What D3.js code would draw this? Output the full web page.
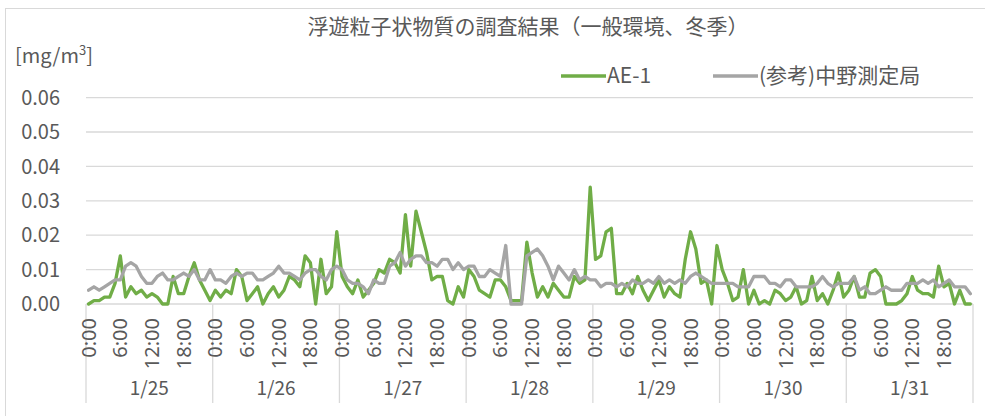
<!DOCTYPE html>
<html>
<head>
<meta charset="utf-8">
<script src="https://cdn.jsdelivr.net/npm/d3@7"></script>
<style>
  body { margin: 0; background: #fff; }
  svg { display: block; }
</style>
</head>
<body>
<div id="chart"></div>
<script>
// categories
const days = ['1/25', '1/26', '1/27', '1/28', '1/29', '1/30', '1/31'];
const hourTicks = [0, 6, 12, 18];
const hourLabels = ['0:00', '6:00', '12:00', '18:00'];
const yTicks = [0, 0.01, 0.02, 0.03, 0.04, 0.05, 0.06];

// hourly values [mg/m3], one row per day
const ae1 = [
  0.000, 0.001, 0.001, 0.002, 0.002, 0.006, 0.014, 0.002, 0.005, 0.003, 0.004, 0.002, 0.003, 0.002, 0.000, 0.000, 0.008, 0.003, 0.003, 0.008, 0.012, 0.007, 0.004, 0.001,
  0.004, 0.002, 0.004, 0.003, 0.010, 0.008, 0.001, 0.003, 0.005, 0.000, 0.003, 0.005, 0.002, 0.004, 0.008, 0.007, 0.005, 0.014, 0.012, 0.000, 0.013, 0.003, 0.005, 0.021,
  0.008, 0.005, 0.003, 0.007, 0.002, 0.004, 0.006, 0.010, 0.009, 0.013, 0.012, 0.009, 0.026, 0.011, 0.027, 0.021, 0.015, 0.007, 0.008, 0.008, 0.001, 0.000, 0.005, 0.002,
  0.010, 0.008, 0.004, 0.003, 0.002, 0.007, 0.007, 0.005, 0.001, 0.001, 0.001, 0.018, 0.009, 0.002, 0.005, 0.002, 0.006, 0.004, 0.002, 0.002, 0.008, 0.006, 0.007, 0.034,
  0.013, 0.014, 0.021, 0.022, 0.003, 0.003, 0.006, 0.003, 0.008, 0.004, 0.001, 0.004, 0.007, 0.002, 0.005, 0.003, 0.002, 0.013, 0.021, 0.016, 0.006, 0.007, 0.000, 0.017,
  0.010, 0.006, 0.001, 0.002, 0.010, 0.000, 0.004, 0.000, 0.001, 0.000, 0.004, 0.003, 0.001, 0.002, 0.005, 0.000, 0.001, 0.008, 0.001, 0.003, 0.000, 0.004, 0.009, 0.002,
  0.004, 0.008, 0.002, 0.002, 0.009, 0.010, 0.008, 0.000, 0.000, 0.000, 0.001, 0.003, 0.008, 0.004, 0.003, 0.003, 0.002, 0.011, 0.005, 0.006, 0.000, 0.004, 0.000, 0.000
];
const nakano = [
  0.004, 0.005, 0.004, 0.005, 0.006, 0.007, 0.007, 0.011, 0.012, 0.011, 0.008, 0.006, 0.006, 0.008, 0.009, 0.007, 0.007, 0.008, 0.009, 0.008, 0.010, 0.007, 0.007, 0.010,
  0.007, 0.007, 0.006, 0.008, 0.009, 0.008, 0.009, 0.009, 0.007, 0.007, 0.008, 0.009, 0.011, 0.009, 0.009, 0.008, 0.007, 0.009, 0.010, 0.010, 0.008, 0.007, 0.010, 0.011,
  0.010, 0.007, 0.006, 0.006, 0.005, 0.003, 0.007, 0.006, 0.006, 0.011, 0.012, 0.015, 0.011, 0.013, 0.014, 0.014, 0.012, 0.012, 0.011, 0.013, 0.013, 0.010, 0.012, 0.010,
  0.011, 0.011, 0.008, 0.008, 0.010, 0.009, 0.008, 0.017, 0.000, 0.000, 0.000, 0.014, 0.015, 0.016, 0.014, 0.011, 0.007, 0.011, 0.009, 0.007, 0.010, 0.007, 0.008, 0.007,
  0.007, 0.005, 0.006, 0.006, 0.005, 0.006, 0.005, 0.007, 0.006, 0.006, 0.007, 0.006, 0.008, 0.006, 0.007, 0.006, 0.007, 0.006, 0.008, 0.009, 0.008, 0.007, 0.006, 0.006,
  0.006, 0.006, 0.006, 0.005, 0.005, 0.005, 0.008, 0.008, 0.008, 0.006, 0.006, 0.005, 0.007, 0.007, 0.005, 0.005, 0.005, 0.005, 0.006, 0.008, 0.006, 0.005, 0.006, 0.006,
  0.006, 0.008, 0.004, 0.005, 0.003, 0.003, 0.004, 0.005, 0.004, 0.004, 0.004, 0.006, 0.006, 0.006, 0.007, 0.006, 0.007, 0.005, 0.006, 0.007, 0.005, 0.005, 0.005, 0.003
];

const seriesNames = ['AE-1', '(参考)中野測定局'];
const seriesColors = ['#70ad47', '#a5a5a5'];

const width = 985;
const height = 416;
const plotLeft = 86, plotRight = 973, plotTop = 97.6, plotBottom = 304;
const font = '"Noto Sans CJK JP", "Noto Sans", sans-serif';
const textColor = '#595959';
const gridColor = '#d9d9d9';

const svg = d3.select('#chart').append('svg')
  .attr('width', width)
  .attr('height', height)
  .attr('font-family', font);

// chart area border
svg.append('rect')
  .attr('x', 5.5).attr('y', 8.5)
  .attr('width', 1000).attr('height', 430)
  .attr('fill', 'none')
  .attr('stroke', gridColor);

const idx = d3.range(days.length * 24);
const x = d3.scaleBand().domain(idx).range([plotLeft, plotRight]);
const y = d3.scaleLinear().domain([0, 0.06]).range([plotBottom, plotTop]);

// grid lines
svg.append('g')
  .selectAll('line')
  .data(yTicks.slice(1))
  .join('line')
    .attr('x1', plotLeft).attr('x2', plotRight)
    .attr('y1', d => y(d)).attr('y2', d => y(d))
    .attr('stroke', gridColor)
    .attr('stroke-width', 1.3);

// y axis labels
svg.append('g')
  .selectAll('text')
  .data(yTicks)
  .join('text')
    .attr('x', 60)
    .attr('y', d => y(d))
    .attr('dy', '0.36em')
    .attr('text-anchor', 'end')
    .attr('font-size', 20)
    .attr('fill', textColor)
    .text(d => d3.format('.2f')(d));

// x axis line and day separators
svg.append('line')
  .attr('x1', plotLeft).attr('x2', plotRight)
  .attr('y1', plotBottom).attr('y2', plotBottom)
  .attr('stroke', gridColor)
  .attr('stroke-width', 1.3);

const dayBounds = d3.range(days.length + 1).map(d => plotLeft + d * 24 * x.step());
svg.append('g')
  .selectAll('line')
  .data(dayBounds)
  .join('line')
    .attr('x1', d => d).attr('x2', d => d)
    .attr('y1', plotBottom).attr('y2', 403)
    .attr('stroke', gridColor)
    .attr('stroke-width', 1.3);

// hour labels, rotated
const hourData = days.flatMap((day, di) => hourTicks.map((h, hi) => ({i: di * 24 + h, label: hourLabels[hi]})));
svg.append('g')
  .selectAll('text')
  .data(hourData)
  .join('text')
    .attr('transform', d => `translate(${x(d.i) + x.bandwidth() / 2},318) rotate(-90)`)
    .attr('dy', '0.35em')
    .attr('text-anchor', 'end')
    .attr('font-family', '"Liberation Sans Narrow", "Noto Sans", sans-serif')
    .attr('font-size', 20)
    .attr('fill', textColor)
    .text(d => d.label);

// day labels
svg.append('g')
  .selectAll('text')
  .data(days)
  .join('text')
    .attr('x', (d, i) => (dayBounds[i] + dayBounds[i + 1]) / 2)
    .attr('y', 395)
    .attr('text-anchor', 'middle')
    .attr('font-size', 19)
    .attr('fill', textColor)
    .text(d => d);

// series lines
const line = d3.line()
  .x((d, i) => x(i) + x.bandwidth() / 2)
  .y(d => y(d));

svg.append('g')
  .selectAll('path')
  .data([ae1, nakano])
  .join('path')
    .attr('d', line)
    .attr('fill', 'none')
    .attr('stroke', (d, i) => seriesColors[i])
    .attr('stroke-width', 3.3)
    .attr('stroke-linejoin', 'round')
    .attr('stroke-linecap', 'round');

// title
svg.append('text')
  .attr('x', 528)
  .attr('y', 34)
  .attr('text-anchor', 'middle')
  .attr('font-size', 21)
  .attr('fill', textColor)
  .text('浮遊粒子状物質の調査結果（一般環境、冬季）');

// unit
const unit = svg.append('text')
  .attr('x', 15)
  .attr('y', 63)
  .attr('font-size', 20)
  .attr('fill', textColor);
unit.append('tspan').text('[mg/m');
unit.append('tspan').attr('font-size', 13).attr('dy', -8).text('3');
unit.append('tspan').attr('dy', 8).text(']');

// legend
const legendX = [561, 713];
const legend = svg.append('g')
  .selectAll('g')
  .data(seriesNames)
  .join('g')
    .attr('transform', (d, i) => `translate(${legendX[i]},76)`);
legend.append('line')
  .attr('x1', 0).attr('x2', 45)
  .attr('stroke', (d, i) => seriesColors[i])
  .attr('stroke-width', 3.3);
legend.append('text')
  .attr('x', 46)
  .attr('dy', '0.35em')
  .attr('font-size', 21)
  .attr('fill', textColor)
  .text(d => d);
</script>
</body>
</html>
